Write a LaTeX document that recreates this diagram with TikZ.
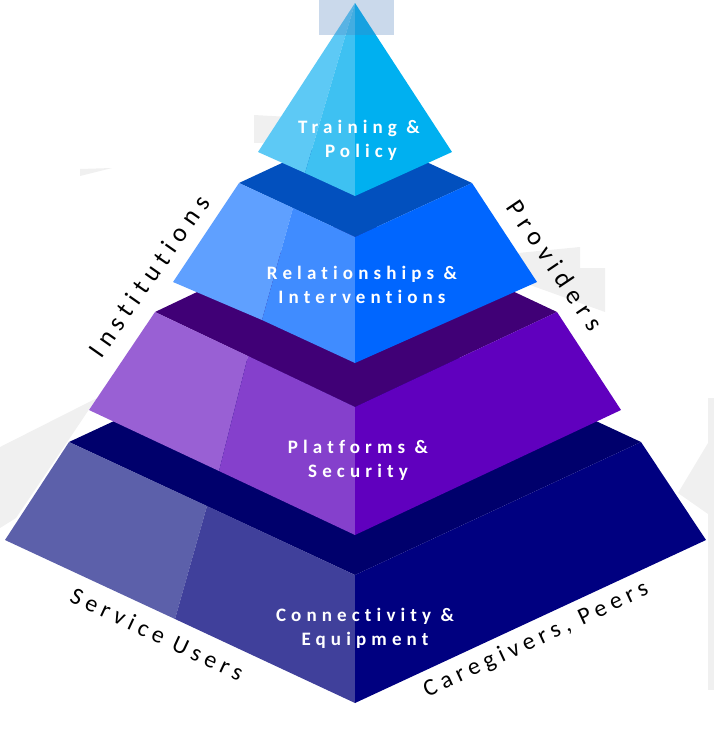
\documentclass[tikz,border=0pt]{standalone}
\usepackage{fontspec}
\setmainfont{Carlito}
\newfontfamily\lblfont{Carlito}[LetterSpace=27,Ligatures={NoCommon,NoRequired,NoContextual}]
\newfontfamily\sidefont{Carlito}[LetterSpace=25,Ligatures={NoCommon,NoRequired,NoContextual}]
\newfontfamily\sidefontb{Carlito}[LetterSpace=22,Ligatures={NoCommon,NoRequired,NoContextual}]
\definecolor{bggray}{RGB}{240,240,240}
\definecolor{capblue}{RGB}{79,129,189}
% layer 1 (top)
\definecolor{aL}{RGB}{93,201,245}
\definecolor{aM}{RGB}{62,193,242}
\definecolor{aR}{RGB}{0,176,240}
% layer 2
\definecolor{bT}{RGB}{2,80,190}
\definecolor{bL}{RGB}{95,160,255}
\definecolor{bM}{RGB}{64,140,255}
\definecolor{bR}{RGB}{0,102,255}
% layer 3
\definecolor{cT}{RGB}{64,0,118}
\definecolor{cL}{RGB}{153,96,212}
\definecolor{cM}{RGB}{133,64,204}
\definecolor{cR}{RGB}{96,0,190}
% layer 4
\definecolor{dT}{RGB}{0,0,108}
\definecolor{dL}{RGB}{92,96,170}
\definecolor{dM}{RGB}{64,64,155}
\definecolor{dR}{RGB}{0,0,128}
\tikzset{
  lbl/.style={text=white, font=\lblfont\bfseries\fontsize{19}{24}\selectfont, anchor=base, inner sep=0pt},
  sidelbl/.style={text=black, font=\sidefont\fontsize{26}{30}\selectfont, inner sep=0pt},
  sidelblb/.style={text=black, font=\sidefontb\fontsize{24}{28}\selectfont, inner sep=0pt},
}
\begin{document}
\begin{tikzpicture}[x=1pt,y=-1pt]
\useasboundingbox (0,0) rectangle (714,732);
% background gray shapes
\fill[bggray] (254,115) -- (290,117) -- (290,142) -- (254,143) -- cycle;
\fill[bggray] (80,169) -- (112,168) -- (80,176) -- cycle;
\fill[bggray] (0,447) -- (97,398) -- (88,411) -- (16,518) -- (0,528) -- cycle;
\fill[bggray] (518,253) -- (580,247) -- (580,268) -- (605,268) -- (605,312) -- (530,285) -- cycle;
\fill[bggray] (708,398) rectangle (714,690);
\fill[bggray] (708,443) -- (678,493) -- (708,514) -- cycle;

% layer 4
\fill[dT] (69,442) -- (355,309) -- (641,442) -- (355,575) -- cycle;
\fill[dL] (69,442) -- (207,506) -- (175,619) -- (5,540) -- cycle;
\fill[dM] (207,506) -- (355,575) -- (355,703) -- (175,619) -- cycle;
\fill[dR] (355,575) -- (641,442) -- (706,540) -- (355,703) -- cycle;
% layer 3
\fill[cT] (155,312) -- (355,217) -- (557,312) -- (355,407) -- cycle;
\fill[cL] (155,312) -- (248,356) -- (219,471) -- (89,410) -- cycle;
\fill[cM] (248,356) -- (355,407) -- (355,535) -- (219,471) -- cycle;
\fill[cR] (355,407) -- (557,312) -- (621,410) -- (355,535) -- cycle;
% layer 2
\fill[bT] (239,183) -- (355,129) -- (472,183) -- (355,237) -- cycle;
\fill[bL] (239,183) -- (293,208) -- (262,320) -- (173,282) -- cycle;
\fill[bM] (293,208) -- (355,237) -- (355,363) -- (262,320) -- cycle;
\fill[bR] (355,237) -- (472,183) -- (537,282) -- (355,363) -- cycle;
% layer 1 (top pyramid)
\fill[aL] (355,3) -- (258,152) -- (305,173) -- cycle;
\fill[aM] (355,3) -- (305,173) -- (355,196) -- cycle;
\fill[aR] (355,3) -- (355,196) -- (452,152) -- cycle;
% translucent cap rectangle
\fill[capblue, fill opacity=0.3] (319,0) rectangle (394,35);

% layer labels
\node[lbl] (l1a) at (359,133) {Training \&};
\node[lbl] (l1b) at (361,157) {Policy};
\node[lbl] (l2a) at (362,279) {Relationships \&};
\node[lbl] (l2b) at (362,303) {Interventions};
\node[lbl] (l3a) at (358,453) {Platforms \&};
\node[lbl] (l3b) at (358,477) {Security};
\node[lbl] (l4a) at (365,621) {Connectivity \&};
\node[lbl] (l4b) at (365,645) {Equipment};

% side labels
\node[sidelbl, rotate=55] (inst) at (149,276) {Institutions};
\node[sidelbl, rotate=-56] (prov) at (555,265) {Providers};
\node[sidelblb, rotate=-25] (serv) at (157,634) {Service Users};
\node[sidelblb, rotate=25] (care) at (536,640) {Caregivers, Peers};
\end{tikzpicture}
\end{document}
